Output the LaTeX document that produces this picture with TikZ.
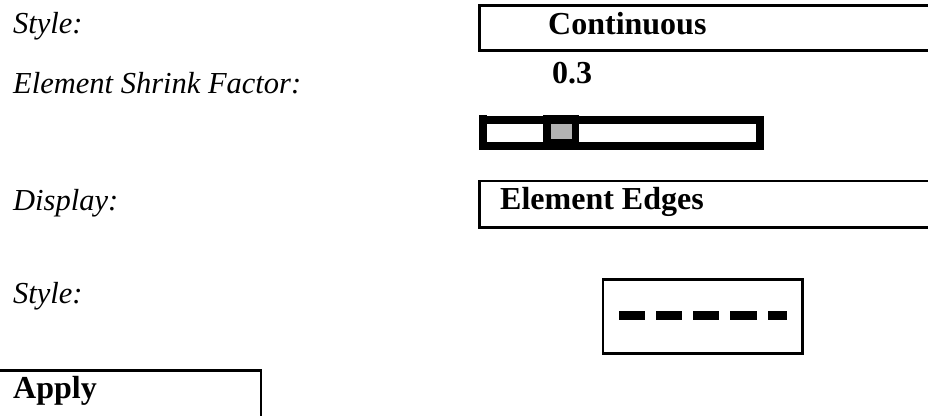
\documentclass[tikz,border=0pt]{standalone}
\usepackage{fontspec}
\setmainfont{Liberation Serif}
\begin{document}
\begin{tikzpicture}[x=1pt,y=-1pt,
  lbl/.style={inner sep=0pt,anchor=base west,font=\fontsize{30.5}{36}\selectfont\itshape},
  val/.style={inner sep=0pt,anchor=base west,font=\fontsize{32}{38}\selectfont\bfseries},
  frame/.style={line width=2.7pt,line cap=butt},
  dashbar/.style={fill=black}]
\useasboundingbox (0,0) rectangle (928,415);
\clip (0,0) rectangle (928,415);
\fill[white] (0,0) rectangle (928,415);
% labels
\node[lbl] (style1) at (13,33.5) {Style:};
\node[lbl] (shrink) at (13,93.5) {Element Shrink Factor:};
\node[lbl] (display) at (13,210) {Display:};
\node[lbl] (style2) at (13,303) {Style:};
% Continuous box (open to the right)
\draw[frame] (940,5.4) -- (479.4,5.4) -- (479.4,50.6) -- (940,50.6);
\node[val] (cont) at (548,34) {Continuous};
% shrink value
\node[val] (factor) at (552,83) {0.3};
% slider
\draw[line width=7.8pt] (482.9,120) rectangle (759.6,145.9);
\fill (479,114.7) rectangle (486.8,120);
\fill (542.8,114.7) rectangle (579.4,141.8);
\fill[black!30] (550.9,124) rectangle (571.7,139.3);
% Display box
\draw[frame] (940,181) -- (479.4,181) -- (479.4,227.4) -- (940,227.4);
\node[val] (edges) at (500,209) {Element Edges};
% line style box
\draw[frame] (603,279.5) rectangle (802.3,353.5);
\fill[dashbar] (619,311) rectangle (645,320);
\fill[dashbar] (656,311) rectangle (682,320);
\fill[dashbar] (693,311) rectangle (719,320);
\fill[dashbar] (730,311) rectangle (757,320);
\fill[dashbar] (768,311) rectangle (787,320);
% Apply button
\draw[frame] (-5,370.8) -- (261,370.8) -- (261,420);
\node[val] (apply) at (13,398) {Apply};
\end{tikzpicture}
\end{document}
